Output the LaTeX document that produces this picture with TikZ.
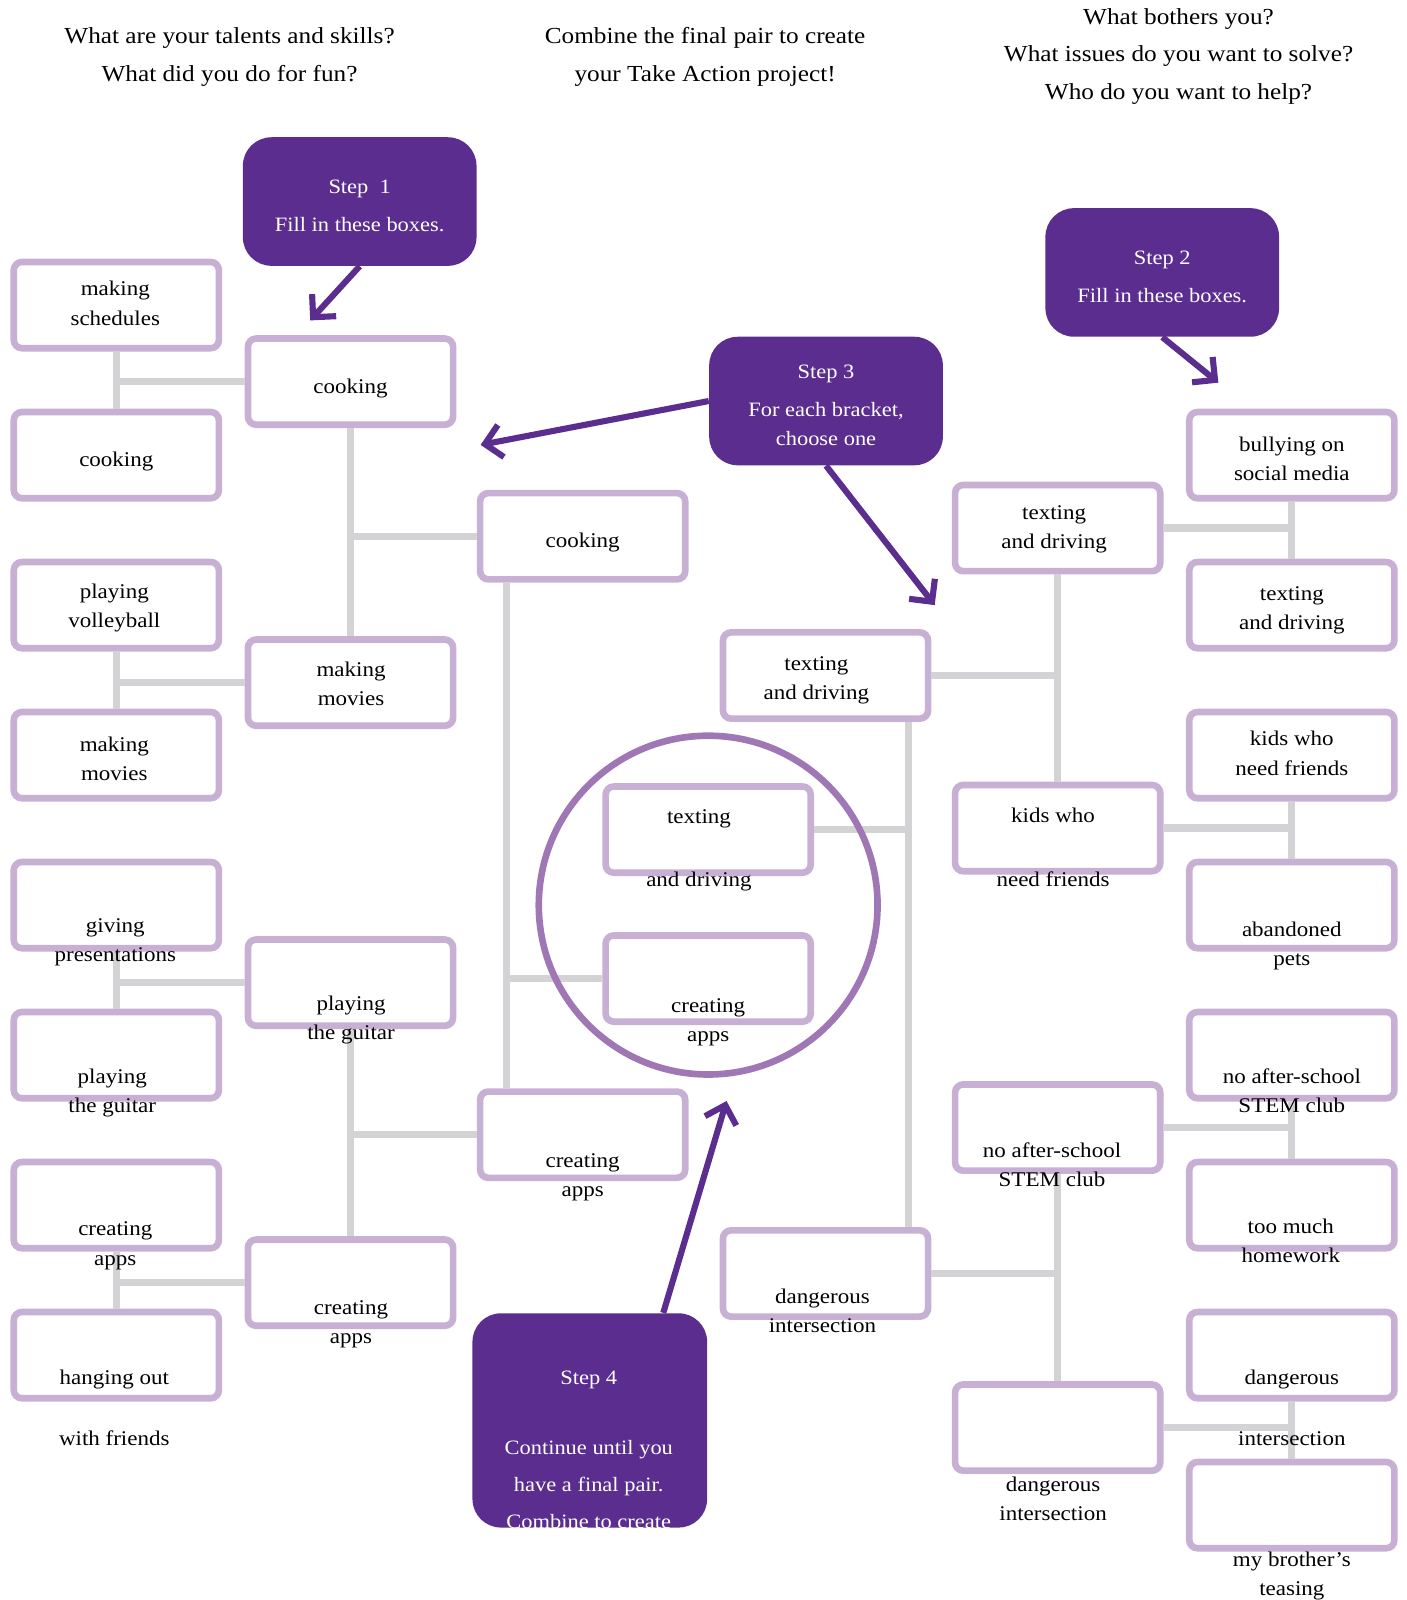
\documentclass[tikz,border=0pt]{standalone}
\usepackage{fontspec}
\setmainfont{Liberation Serif}[FakeStretch=1.1]
\usetikzlibrary{arrows.meta,positioning,calc}
\definecolor{stepfill}{HTML}{5B2D8E}
\definecolor{slotline}{HTML}{C8B0D5}
\definecolor{linkgray}{HTML}{D3D3D5}
\definecolor{ringline}{HTML}{9F77B5}
\newcommand{\slotfont}{\fontsize{10.25pt}{14.25pt}\selectfont}
\newcommand{\stepfont}{\fontsize{10pt}{14.5pt}\selectfont}
\newcommand{\hdrfont}{\fontsize{11.25pt}{18.25pt}\selectfont}
\newcommand{\toplift}{\rule{0pt}{\baselineskip}}
\newcommand{\botlift}{\rule[-.2\baselineskip]{0pt}{.2\baselineskip}}

\begin{document}
\begin{tikzpicture}[x=0.5pt, y=-0.5pt]
    \tikzset{
        lined/.style={execute at begin node=\toplift, execute at end node=\botlift},
        slot/.style={lined, draw=slotline, line width=3.25pt, fill=white, rectangle, rounded corners=4pt, minimum width=100.5pt, minimum height=42.25pt, inner sep=0pt, align=center, font=\slotfont},
        txt/.style={lined, inner sep=0pt, align=center, font=\slotfont, yshift=-1.5pt},
        hdr/.style={lined, inner sep=0pt, align=center, font=\hdrfont, yshift=-2pt},
        stepbox/.style={fill=stepfill, rectangle, rounded corners=14pt, minimum width=114.5pt, minimum height=63pt, inner sep=0pt},
        steptxt/.style={lined, inner sep=0pt, align=center, text=white, font=\stepfont, yshift=-2pt},
        link/.style={draw=linkgray, line width=3.5pt},
        ring/.style={draw=ringline, line width=3.25pt},
        pointer/.style={draw=stepfill, line width=3pt, -{Straight Barb[length=8pt, width=16pt]}}
    }
    \useasboundingbox (0, 0) rectangle (1378, 1568);

    % Questions
    \node[hdr] (qleft) at (225, 53) {What are your talents and skills?\\What did you do for fun?};
    \node[hdr] (qmid) at (691, 53) {Combine the final pair to create\\your Take Action project!};
    \node[hdr] (qright) at (1155, 52.5) {What bothers you?\\What issues do you want to solve?\\Who do you want to help?};

    % Talents
    \node[slot] (a1) at (114, 299) {};
    \node[slot] (a2) at (114, 446) {cooking};
    \node[slot] (a3) at (114, 593) {};
    \node[slot] (a4) at (114, 740) {};
    \node[slot] (a5) at (114, 887) {};
    \node[slot] (a6) at (114, 1034) {};
    \node[slot] (a7) at (114, 1181) {};
    \node[slot] (a8) at (114, 1328) {};
    \node[slot] (b1) at (343.5, 374) {cooking};
    \node[slot] (b2) at (343.5, 669) {};
    \node[slot] (b3) at (343.5, 963) {};
    \node[slot] (b4) at (343.5, 1257) {};
    \node[slot] (c1) at (571, 525.5) {cooking};
    \node[slot] (c2) at (571, 1112) {};

    % Final pair
    \node[slot] (m1) at (694, 813) {};
    \node[slot] (m2) at (694, 959) {};

    % Issues
    \node[slot] (d1) at (809, 662) {};
    \node[slot] (d2) at (809, 1248) {};
    \node[slot] (e1) at (1036.5, 517.5) {};
    \node[slot] (e2) at (1036.5, 811.5) {};
    \node[slot] (e3) at (1036.5, 1105) {};
    \node[slot] (e4) at (1036.5, 1399) {};
    \node[slot] (f1) at (1266, 446) {};
    \node[slot] (f2) at (1266, 593) {};
    \node[slot] (f3) at (1266, 740) {};
    \node[slot] (f4) at (1266, 887) {};
    \node[slot] (f5) at (1266, 1034) {};
    \node[slot] (f6) at (1266, 1181) {};
    \node[slot] (f7) at (1266, 1328) {};
    \node[slot] (f8) at (1266, 1475) {};

    % Brackets
    \foreach \u/\v/\w in {a1/a2/b1, a3/a4/b2, a5/a6/b3, a7/a8/b4, b1/b2/c1, b3/b4/c2,
                          f1/f2/e1, f3/f4/e2, f5/f6/e3, f7/f8/e4, e1/e2/d1, e3/e4/d2} {
        \draw[link] (\u) -- (\v);
        \draw[link] (\w) -- (\w -| \u);
    }
    \coordinate (cx) at (496, 0);
    \coordinate (dx) at (890, 0);
    \draw[link] (c1.south -| cx) -- (c2.north -| cx);
    \draw[link] (m2.west) -- (m2.west -| cx);
    \draw[link] (d1.south -| dx) -- (d2.north -| dx);
    \draw[link] (m1.east) -- (m1.east -| dx);

    % Circle round the final pair
    \draw[ring] (694, 887) circle[radius=83pt];

    % Box texts
    \node[txt] (ta1) at (113, 297) {making\\schedules};
    \node[txt] (ta3) at (112, 593.5) {playing\\volleyball};
    \node[txt] (ta4) at (112, 743) {making\\movies};
    \node[txt] (ta5) at (113, 921) {giving\\presentations};
    \node[txt] (ta6) at (110, 1069) {playing\\the guitar};
    \node[txt] (ta7) at (113, 1218.5) {creating\\apps};
    \node[txt] (ta8) at (112, 1379.5) {hanging out\\[16pt]with friends};
    \node[txt] (tb2) at (344, 670) {making\\movies};
    \node[txt] (tb3) at (344, 997) {playing\\the guitar};
    \node[txt] (tb4) at (344, 1295.5) {creating\\apps};
    \node[txt] (tc2) at (571, 1151.5) {creating\\apps};
    \node[txt] (tm1) at (685, 831) {texting\\[16.5pt]and driving};
    \node[txt] (tm2) at (694, 999.5) {creating\\apps};
    \node[txt] (td1) at (800, 664) {texting\\and driving};
    \node[txt] (td2) at (806, 1284) {dangerous\\intersection};
    \node[txt] (te1) at (1033, 516) {texting\\and driving};
    \node[txt] (te2) at (1032, 830.5) {kids who\\[17pt]need friends};
    \node[txt] (te3) at (1031, 1141) {no after-school\\STEM club};
    \node[txt] (te4) at (1032, 1469) {dangerous\\intersection};
    \node[txt] (tf1) at (1266, 449) {bullying on\\social media};
    \node[txt] (tf2) at (1266, 595.5) {texting\\and driving};
    \node[txt] (tf3) at (1266, 738) {kids who\\need friends};
    \node[txt] (tf4) at (1266, 925) {abandoned\\pets};
    \node[txt] (tf5) at (1266, 1068.5) {no after-school\\STEM club};
    \node[txt] (tf6) at (1265, 1215.5) {too much\\homework};
    \node[txt] (tf7) at (1266, 1379.5) {dangerous\\[16pt]intersection};
    \node[txt] (tf8) at (1266, 1542) {my brother’s\\teasing};

    % Steps
    \node[stepbox] (s1) at (352.5, 197.5) {};
    \node[stepbox] (s2) at (1139, 267) {};
    \node[stepbox] (s3) at (809.5, 393) {};
    \node[stepbox, minimum width=115pt, minimum height=105pt] (s4) at (578, 1392) {};
    \node[steptxt] (ts1) at (352.5, 200.5) {Step~~1\\[4pt]Fill in these boxes.};
    \node[steptxt] (ts2) at (1139, 270) {Step 2\\[4pt]Fill in these boxes.};
    \node[steptxt] (ts3) at (809.5, 396) {Step 3\\[4pt]For each bracket,\\choose one};
    \node[steptxt, font=\fontsize{10pt}{18pt}\selectfont] (ts4) at (577, 1420)
        {Step 4\\[16.5pt]Continue until you\\have a final pair.\\Combine to create};

    % Step pointers
    \coordinate (t1) at (304, 314);
    \coordinate (t2) at (1194, 375);
    \coordinate (t3a) at (471, 436);
    \coordinate (t3b) at (916, 593);
    \coordinate (t4) at (712, 1079);
    \draw[pointer] (s1.south) -- (t1);
    \draw[pointer] (s2.south) -- (t2);
    \draw[pointer] (s3.west) -- (t3a);
    \draw[pointer] (s3.south) -- (t3b);
    \draw[pointer] ($(s4.north)+(72, 0)$) -- (t4);
\end{tikzpicture}
\end{document}
